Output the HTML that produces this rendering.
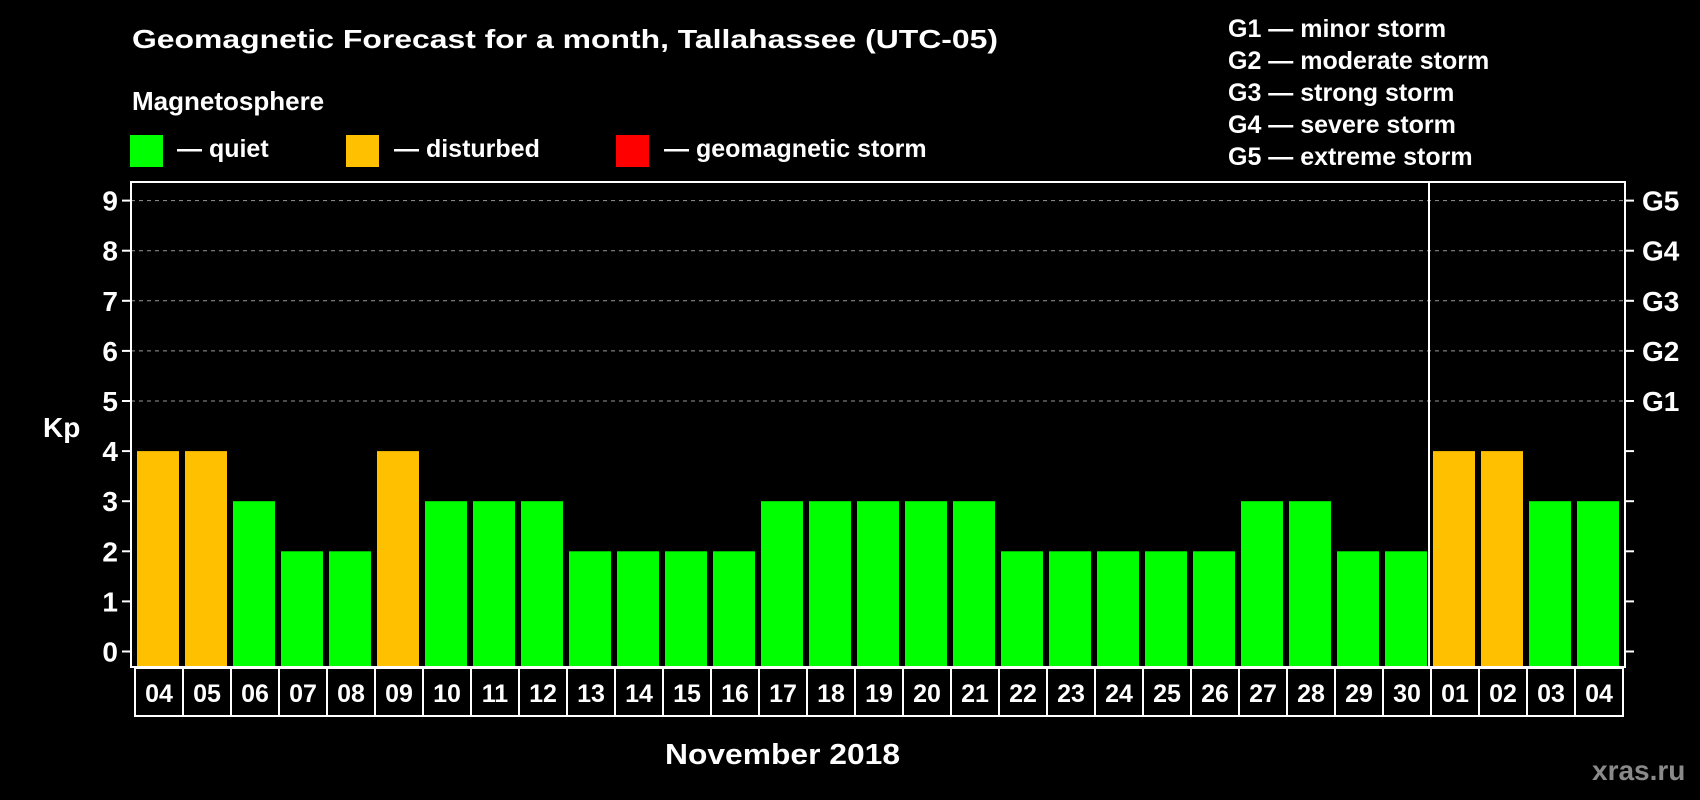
<!DOCTYPE html>
<html><head><meta charset="utf-8"><style>
html,body{margin:0;padding:0;background:#000;width:1700px;height:800px;overflow:hidden}
svg text{font-family:"Liberation Sans",sans-serif;font-weight:bold;fill:#fff}
</style></head><body>
<svg id="chart" width="1700" height="800" viewBox="0 0 1700 800" xmlns="http://www.w3.org/2000/svg">
<rect width="1700" height="800" fill="#000"/>
<text x="132" y="48" font-size="26" textLength="866" lengthAdjust="spacingAndGlyphs">Geomagnetic Forecast for a month, Tallahassee (UTC-05)</text>
<text x="132" y="110" font-size="26">Magnetosphere</text>
<rect x="130" y="135" width="33" height="32" fill="#00ff00"/>
<text x="177" y="157" font-size="25">— quiet</text>
<rect x="346" y="135" width="33" height="32" fill="#ffc000"/>
<text x="394" y="157" font-size="25">— disturbed</text>
<rect x="616" y="135" width="33" height="32" fill="#ff0000"/>
<text x="664" y="157" font-size="25">— geomagnetic storm</text>
<g font-size="25">
<text x="1228" y="37">G1 — minor storm</text>
<text x="1228" y="69">G2 — moderate storm</text>
<text x="1228" y="101">G3 — strong storm</text>
<text x="1228" y="133">G4 — severe storm</text>
<text x="1228" y="165">G5 — extreme storm</text>
</g>
<text x="43" y="437" font-size="28">Kp</text>
<text x="665" y="764" font-size="29" textLength="235" lengthAdjust="spacingAndGlyphs">November 2018</text>
<text x="1592" y="780" font-size="28" style="fill:#8a8a8a">xras.ru</text>
<g id="grid"></g><g id="bars"></g><g id="axes"></g><g id="cells"></g>
</svg>
<script>
const days=["04","05","06","07","08","09","10","11","12","13","14","15","16","17","18","19","20","21","22","23","24","25","26","27","28","29","30","01","02","03","04"];
const kp=[4,4,3,2,2,4,3,3,3,2,2,2,2,3,3,3,3,3,2,2,2,2,2,3,3,2,2,4,4,3,3];
const yTicks=[0,1,2,3,4,5,6,7,8,9];
const gLabels=["G1","G2","G3","G4","G5"];
const gLevels=[5,6,7,8,9];
const NS="http://www.w3.org/2000/svg";
const L=131,R=1625,T=182,B=667,X0=134,PITCH=48;
const y=v=>651.5-v*50.1;
const x=i=>X0+i*PITCH;
function mk(tag,attrs,parent){const e=document.createElementNS(NS,tag);for(const k in attrs)e.setAttribute(k,attrs[k]);document.getElementById(parent).appendChild(e);return e;}
gLevels.forEach(v=>{
 const g=mk('line',{x1:L,x2:R,y1:y(v),y2:y(v),stroke:'#999','stroke-width':1,'stroke-dasharray':'4,4'},'grid');
 
 
});
kp.forEach((v,i)=>{
 const col=v>=5?'#ff0000':(v>=4?'#ffc000':'#00ff00');
 const b=mk('rect',{x:x(i)+3,y:y(v),width:42,height:B-y(v),fill:col},'bars');
 
 
});
const box=mk('rect',{x:L,y:T,width:R-L,height:B-T,fill:'none',stroke:'#fff','stroke-width':2},'axes');


const sep=mk('line',{x1:x(27)-1,x2:x(27)-1,y1:T,y2:B,stroke:'#fff','stroke-width':2},'axes');


yTicks.forEach(v=>{
 mk('line',{x1:L-9,x2:L,y1:y(v),y2:y(v),stroke:'#fff','stroke-width':2},'axes');
 mk('line',{x1:R,x2:R+9,y1:y(v),y2:y(v),stroke:'#fff','stroke-width':2},'axes');
 const t=mk('text',{x:118,y:y(v)+10,'font-size':28,'text-anchor':'end'},'axes');
 t.textContent=v;
 
 
});
gLevels.forEach((v,i)=>{
 const t=mk('text',{x:1642,y:y(v)+10,'font-size':28},'axes');
 t.textContent=gLabels[i];
 
 
});
const cb=mk('rect',{x:135,y:668,width:1488,height:48,fill:'none',stroke:'#fff','stroke-width':2},'cells');


days.forEach((d,i)=>{
 if(i>0)mk('line',{x1:135+i*48,x2:135+i*48,y1:668,y2:716,stroke:'#fff','stroke-width':2},'cells');
 const t=mk('text',{x:135+i*48+24,y:702,'font-size':25,'text-anchor':'middle'},'cells');
 t.textContent=d;
 
 
});
</script>
</body></html>
